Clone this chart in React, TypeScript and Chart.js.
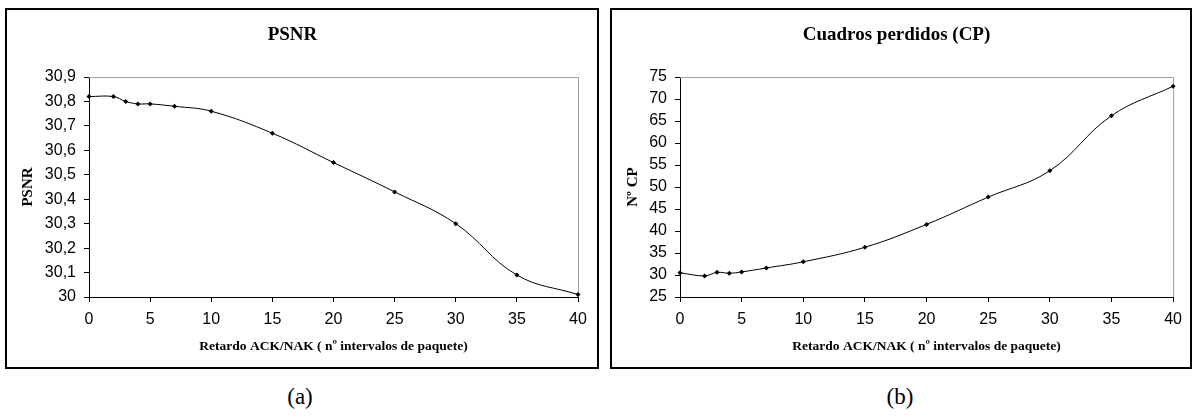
import React, { useEffect, useRef } from "react";
import { Chart, registerables } from "chart.js";

Chart.register(...registerables);

const delays = [0, 2, 3, 4, 5, 7, 10, 15, 20, 25, 30, 35, 40];
const psnrValues = [30.82, 30.82, 30.8, 30.79, 30.79, 30.78, 30.76, 30.67, 30.55, 30.43, 30.3, 30.09, 30.01];
const cpValues = [30.5, 29.8, 30.6, 30.4, 30.7, 31.6, 33.0, 36.3, 41.5, 47.7, 53.7, 66.2, 72.9];
const xTickLabels = ["0", "5", "10", "15", "20", "25", "30", "35", "40"];
const psnrTickLabels = ["30", "30,1", "30,2", "30,3", "30,4", "30,5", "30,6", "30,7", "30,8", "30,9"];
const cpTickLabels = ["25", "30", "35", "40", "45", "50", "55", "60", "65", "70", "75"];

const xTitle = "Retardo ACK/NAK ( nº intervalos de paquete)";

const frameBorder = {
  id: "frameBorder",
  beforeDatasetsDraw(chart: any) {
    const { ctx, chartArea } = chart;
    ctx.save();
    ctx.strokeStyle = "#a0a0a0";
    ctx.lineWidth = 1;
    ctx.beginPath();
    ctx.moveTo(chartArea.left, chartArea.top + 0.5);
    ctx.lineTo(chartArea.right + 0.5, chartArea.top + 0.5);
    ctx.lineTo(chartArea.right + 0.5, chartArea.bottom);
    ctx.stroke();
    ctx.restore();
  },
};

type Props = {
  title: string;
  yTitle: string;
  values: number[];
  yMin: number;
  yMax: number;
  yStep: number;
  yLabels: string[];
  width: number;
  height: number;
  yAxisWidth: number;
  rightPad: number;
};

function LineChart(p: Props) {
  const ref = useRef<HTMLCanvasElement | null>(null);
  useEffect(() => {
    if (!ref.current) return;
    const chart = new Chart(ref.current, {
      type: "line",
      data: {
        datasets: [
          {
            data: delays.map((d, i) => ({ x: d, y: p.values[i] })),
            borderColor: "#000",
            backgroundColor: "#000",
            borderWidth: 1,
            tension: 0.4,
            pointStyle: "rectRot",
            pointRadius: 2.5,
            pointBorderWidth: 0,
            clip: false,
          },
        ],
      },
      options: {
        animation: false,
        responsive: false,
        layout: { padding: { left: 0, right: p.rightPad, top: 0, bottom: 0 } },
        plugins: {
          legend: { display: false },
          tooltip: { enabled: false },
          title: {
            display: true,
            text: p.title,
            color: "#000",
            font: { family: "'Liberation Serif', 'Times New Roman', serif", size: 19, weight: "bold", lineHeight: 1.2 },
            padding: { top: 13.6, bottom: 30.6 },
          },
        },
        scales: {
          x: {
            type: "linear",
            min: 0,
            max: 40,
            afterFit: (s: any) => {
              s.height = 70;
            },
            afterBuildTicks: (s: any) => {
              s.ticks = xTickLabels.map((t) => ({ value: Number(t) }));
            },
            ticks: {
              color: "#000",
              autoSkip: false,
              maxRotation: 0,
              padding: 8,
              font: { family: "'Liberation Sans', Arial, sans-serif", size: 16 },
              callback: (_v: any, i: number) => xTickLabels[i],
            },
            grid: { display: true, drawOnChartArea: false, drawTicks: true, tickLength: 5, color: "#000" },
            border: { display: true, color: "#000", width: 1 },
            title: {
              display: true,
              text: xTitle,
              color: "#000",
              font: { family: "'Liberation Serif', 'Times New Roman', serif", size: 13.5, weight: "bold" },
              padding: { top: 0, bottom: 12 },
            },
          },
          y: {
            type: "linear",
            min: p.yMin,
            max: p.yMax,
            afterFit: (s: any) => {
              s.width = p.yAxisWidth;
            },
            afterBuildTicks: (s: any) => {
              s.ticks = p.yLabels.map((_t, i) => ({ value: p.yMin + i * p.yStep }));
            },
            ticks: {
              color: "#000",
              autoSkip: false,
              padding: 8,
              font: { family: "'Liberation Sans', Arial, sans-serif", size: 16 },
              callback: (_v: any, i: number) => p.yLabels[i],
            },
            grid: { display: true, drawOnChartArea: false, drawTicks: true, tickLength: 5, color: "#000" },
            border: { display: true, color: "#000", width: 1 },
            title: {
              display: true,
              text: p.yTitle,
              color: "#000",
              font: { family: "'Liberation Serif', 'Times New Roman', serif", size: 15, weight: "bold" },
              padding: { top: 12, bottom: 0 },
            },
          },
        },
      },
      plugins: [frameBorder],
    });
    return () => chart.destroy();
  }, []);
  return <canvas ref={ref} width={p.width} height={p.height} style={{ display: "block" }} />;
}

export default function App() {
  const boxStyle = (left: number, width: number): React.CSSProperties => ({
    position: "absolute",
    left,
    top: 8,
    width,
    height: 357,
    border: "2px solid #000",
    background: "#fff",
  });
  const capStyle = (left: number): React.CSSProperties => ({
    position: "absolute",
    left,
    top: 382,
    width: 60,
    textAlign: "center",
    fontFamily: "'Liberation Serif', 'DejaVu Serif', serif",
    fontSize: 23,
    lineHeight: "30px",
    color: "#000",
  });
  return (
    <div style={{ position: "absolute", left: 0, top: 0, width: 1194, height: 416, background: "#fff" }}>
      <div style={boxStyle(5, 590)}>
        <LineChart
          title="PSNR"
          yTitle="PSNR"
          values={psnrValues}
          yMin={30}
          yMax={30.9}
          yStep={0.1}
          yLabels={psnrTickLabels}
          width={590}
          height={357}
          yAxisWidth={82}
          rightPad={19}
        />
      </div>
      <div style={boxStyle(610, 578)}>
        <LineChart
          title="Cuadros perdidos (CP)"
          yTitle="Nº CP"
          values={cpValues}
          yMin={25}
          yMax={75}
          yStep={5}
          yLabels={cpTickLabels}
          width={578}
          height={357}
          yAxisWidth={68}
          rightPad={9}
        />
      </div>
      <div style={capStyle(270)}>(a)</div>
      <div style={capStyle(870)}>(b)</div>
    </div>
  );
}
